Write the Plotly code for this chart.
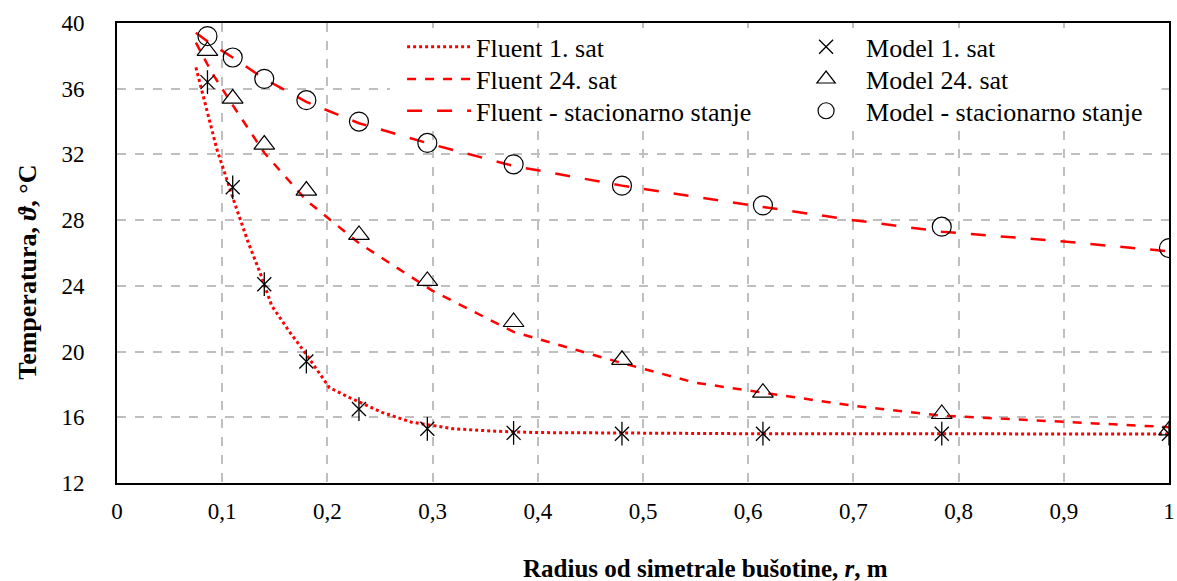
import plotly.graph_objects as go

# Model points
r_model = [0.086, 0.11, 0.14, 0.18, 0.23, 0.295, 0.377, 0.48, 0.614, 0.784, 1.0]
model_1h = [36.4, 30.0, 24.1, 19.4, 16.5, 15.3, 15.05, 15.0, 15.0, 15.0, 15.0]
model_24h = [38.3, 35.4, 32.6, 29.8, 27.1, 24.3, 21.8, 19.5, 17.5, 16.2, 15.2]
model_st = [39.2, 37.9, 36.6, 35.3, 34.0, 32.7, 31.4, 30.1, 28.9, 27.6, 26.3]

# Fluent curves
r_fl1 = [0.075, 0.085, 0.095, 0.112, 0.125, 0.136, 0.147, 0.164, 0.178, 0.202, 0.221, 0.252, 0.28, 0.32, 0.36, 0.4, 0.5, 0.6, 0.7, 0.8, 0.9, 1.0]
fl_1h = [37.3, 34.8, 32.3, 29.0, 26.6, 24.8, 22.8, 21.2, 20.0, 17.8, 17.2, 16.3, 15.7, 15.3, 15.15, 15.07, 15.02, 15.0, 15.0, 15.0, 14.98, 14.98]

r_fl = [0.075, 0.09, 0.11, 0.14, 0.18, 0.23, 0.3, 0.377, 0.48, 0.55, 0.614, 0.7, 0.784, 0.9, 1.0]
fl_24h = [38.8, 37.0, 35.0, 32.1, 29.2, 26.6, 23.7, 21.2, 19.3, 18.1, 17.5, 16.7, 16.1, 15.7, 15.4]
fl_st = [39.4, 38.7, 37.9, 36.6, 35.2, 33.9, 32.6, 31.3, 30.1, 29.4, 28.8, 28.0, 27.3, 26.7, 26.1]

x_ticks = [0, 0.1, 0.2, 0.3, 0.4, 0.5, 0.6, 0.7, 0.8, 0.9, 1.0]
y_ticks = [12, 16, 20, 24, 28, 32, 36, 40]

FONT = "Liberation Serif, Times New Roman, serif"
RED = "#ff0000"
ROWS = [0.948, 0.878, 0.809]

fig = go.Figure()
fig.add_trace(go.Scatter(x=r_fl1, y=fl_1h, mode="lines", name="Fluent 1. sat",
                         line=dict(color=RED, width=3, dash="dot"), legend="legend"))
fig.add_trace(go.Scatter(x=r_fl, y=fl_24h, mode="lines", name="Fluent 24. sat",
                         line=dict(color=RED, width=2.5, dash="dash"), legend="legend2"))
fig.add_trace(go.Scatter(x=r_fl, y=fl_st, mode="lines", name="Fluent - stacionarno stanje",
                         line=dict(color=RED, width=2.5, dash="longdash"), legend="legend3"))
fig.add_trace(go.Scatter(x=r_model, y=model_1h, mode="markers", name="Model 1. sat",
                         marker=dict(symbol="x-thin-open", size=14, color="black",
                                     line=dict(color="black", width=1.3)), legend="legend4"))
fig.add_trace(go.Scatter(x=r_model, y=model_1h, mode="markers", showlegend=False,
                         hoverinfo="skip",
                         marker=dict(symbol="line-ns-open", size=17, color="black",
                                     line=dict(color="black", width=1.3))))
fig.add_trace(go.Scatter(x=r_model, y=model_24h, mode="markers", name="Model 24. sat",
                         marker=dict(symbol="triangle-up-open", size=18, color="black",
                                     line=dict(color="black", width=1.2)), legend="legend5"))
fig.add_trace(go.Scatter(x=r_model, y=model_st, mode="markers", name="Model - stacionarno stanje",
                         marker=dict(symbol="circle-open", size=19, color="black",
                                     line=dict(color="black", width=1.2)), legend="legend6"))

axis_common = dict(showgrid=True, gridcolor="#bfbfbf", griddash="dash", gridwidth=1.5,
                   showline=True, linecolor="black", linewidth=2, mirror=True,
                   zeroline=False, ticks="", automargin=False,
                   tickfont=dict(family=FONT, size=23, color="black"))


def leg(x, y, iw):
    return dict(x=x, y=y, xanchor="left", yanchor="middle", bgcolor="rgba(0,0,0,0)",
                font=dict(family=FONT, size=26, color="black"), itemwidth=iw,
                borderwidth=0, visible=True)


fig.update_layout(
    width=1177, height=581,
    margin=dict(l=117, r=8, t=23, b=98),
    plot_bgcolor="white", paper_bgcolor="white",
    separators=", ",
    showlegend=True,
    font=dict(family=FONT, color="black"),
    xaxis=dict(range=[0, 1], tickvals=x_ticks, ticklabelstandoff=6, **axis_common),
    yaxis=dict(range=[12, 40], tickvals=y_ticks, ticklabelstandoff=26, **axis_common),
    legend=leg(0.271, ROWS[0], 64),
    legend2=leg(0.271, ROWS[1], 64),
    legend3=leg(0.271, ROWS[2], 64),
    legend4=leg(0.636, ROWS[0], 70),
    legend5=leg(0.636, ROWS[1], 70),
    legend6=leg(0.636, ROWS[2], 70),
    shapes=[dict(type="rect", xref="paper", yref="paper", x0=0.2595, x1=0.993,
                 y0=0.78, y1=0.989, fillcolor="white", line=dict(width=0), layer="above")],
    annotations=[
        dict(text="<b>Radius od simetrale bušotine, <i>r</i>, m</b>", xref="paper", yref="paper",
             x=0.559, y=-0.185, xanchor="center", yanchor="middle", showarrow=False,
             font=dict(family=FONT, size=25, color="black")),
        dict(text="<b>Temperatura, <i>ϑ</i>, °C</b>", xref="paper", yref="paper",
             x=-0.0846, y=0.457, xanchor="center", yanchor="middle", showarrow=False,
             textangle=-90, font=dict(family=FONT, size=26, color="black")),
    ],
)

fig.write_html("out.html", config={"displayModeBar": False},
               post_script="document.body.style.margin='0';")
